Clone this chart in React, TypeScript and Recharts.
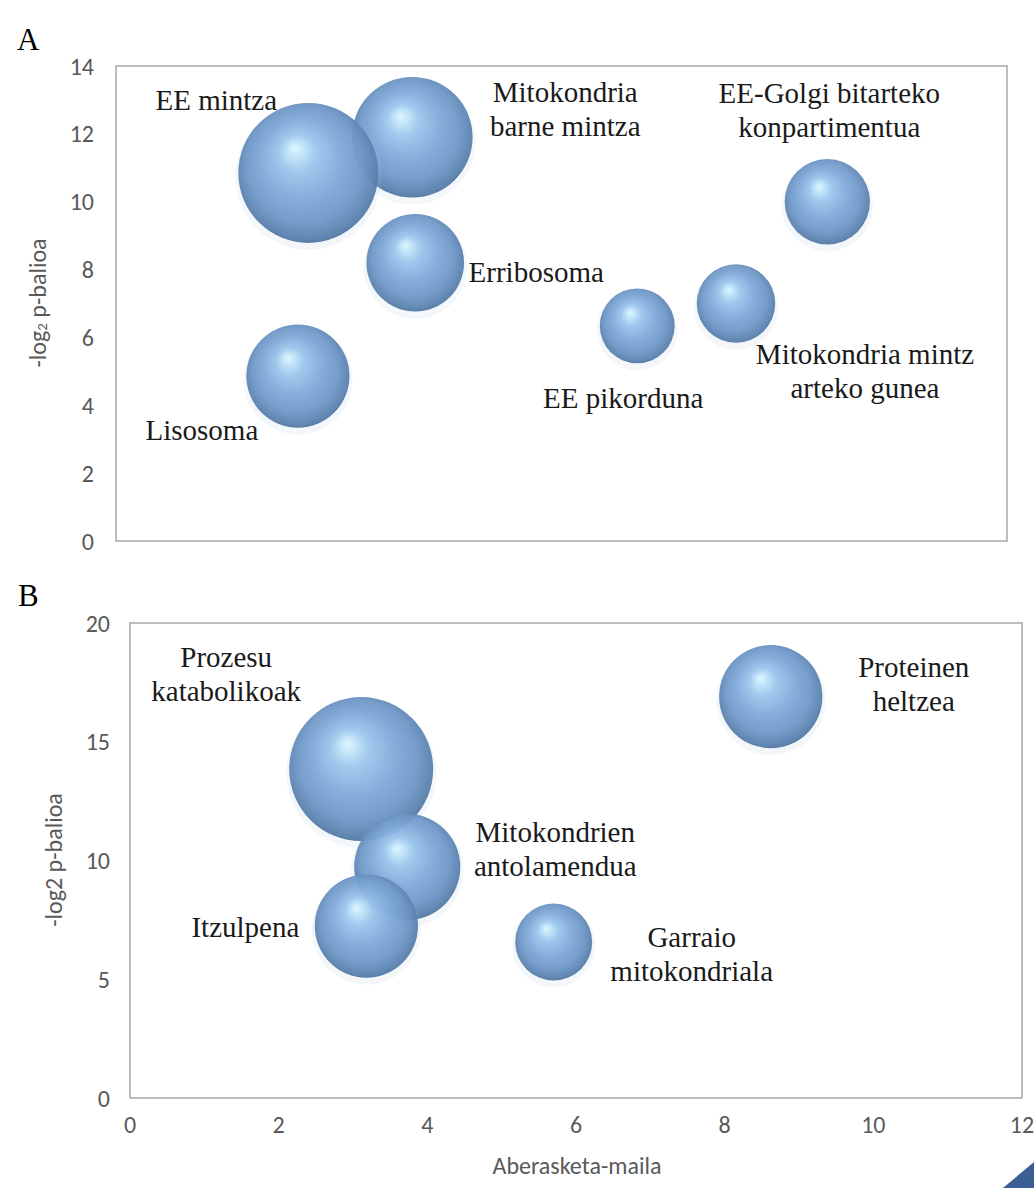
import React from "react";
import { ScatterChart, Scatter, XAxis, YAxis, ZAxis, ReferenceArea } from "recharts";

// A: zelula osagaiak
const namesA = [
  "Mitokondria\nbarne mintza",
  "EE mintza",
  "Erribosoma",
  "Lisosoma",
  "EE pikorduna",
  "Mitokondria mintz\narteko gunea",
  "EE-Golgi bitarteko\nkonpartimentua",
];
const enrichA = [3.99, 2.59, 4.03, 2.45, 7.02, 8.35, 9.58];
const pvalA = [11.9, 10.85, 8.2, 4.86, 6.34, 7.0, 10.0];
const countA = [26, 35, 17, 19, 10, 11, 13];

// B: prozesu biologikoak
const namesB = [
  "Prozesu\nkatabolikoak",
  "Mitokondrien\nantolamendua",
  "Itzulpena",
  "Garraio\nmitokondriala",
  "Proteinen\nheltzea",
];
const enrichB = [3.11, 3.73, 3.18, 5.7, 8.62];
const pvalB = [13.85, 9.73, 7.24, 6.57, 16.9];
const countB = [35, 19, 18, 10, 18];

const xTicks = [0, 2, 4, 6, 8, 10, 12];
const yTicksA = [0, 2, 4, 6, 8, 10, 12, 14];
const yTicksB = [0, 5, 10, 15, 20];

// label placement relative to the bubble centre (px)
const labelOffsets: Record<string, [number, number]> = {
  "Mitokondria\nbarne mintza": [153, -28],
  "EE mintza": [-92, -73],
  Erribosoma: [121, 9],
  Lisosoma: [-96, 54],
  "EE pikorduna": [-14, 72],
  "Mitokondria mintz\narteko gunea": [129, 67],
  "EE-Golgi bitarteko\nkonpartimentua": [2, -92],
  "Prozesu\nkatabolikoak": [-135, -95],
  "Mitokondrien\nantolamendua": [148, -18],
  Itzulpena: [-121, 1],
  "Garraio\nmitokondriala": [138, 12],
  "Proteinen\nheltzea": [143, -13],
};

const dataA = namesA.map((name, i) => ({ name, x: enrichA[i], y: pvalA[i], z: countA[i] }));
const dataB = namesB.map((name, i) => ({ name, x: enrichB[i], y: pvalB[i], z: countB[i] }));

const AXIS_FONT = "Carlito, 'Liberation Sans Narrow', 'Noto Sans', sans-serif";
const LABEL_FONT = "'Liberation Serif', 'Times New Roman', serif";
const GREY = "#595959";

const Bubble = (props: any) => {
  const { cx, cy, payload, gradId } = props;
  const r = props.width ? props.width / 2 : Math.sqrt((props.size || 0) / Math.PI);
  const off = labelOffsets[payload.name] || [0, 0];
  const lines = String(payload.name).split("\n");
  const lh = 34;
  return (
    <g>
      <circle cx={cx} cy={cy + 4} r={r + 3} fill="#b3c7dd" opacity={0.14} />
      <circle cx={cx} cy={cy} r={r} fill={`url(#${gradId})`} fillOpacity={0.94} />
      <text textAnchor="middle" fontFamily={LABEL_FONT} fontSize={29} fill="#1a1a1a">
        {lines.map((l, i) => (
          <tspan
            key={i}
            x={cx + off[0]}
            y={cy + off[1] + (i - (lines.length - 1) / 2) * lh}
            dominantBaseline="central"
          >
            {l}
          </tspan>
        ))}
      </text>
    </g>
  );
};

const SphereGradient = ({ id }: { id: string }) => (
  <defs>
    <radialGradient id={id} cx="50%" cy="48%" r="56%" fx="40%" fy="32%">
      <stop offset="0%" stopColor="#dcf6ff" />
      <stop offset="9%" stopColor="#c2e6fa" />
      <stop offset="24%" stopColor="#9cc6ec" />
      <stop offset="48%" stopColor="#82acdb" />
      <stop offset="74%" stopColor="#6f97c7" />
      <stop offset="90%" stopColor="#5980ae" />
      <stop offset="100%" stopColor="#42698f" />
    </radialGradient>
  </defs>
);

const tickStyle = { fontSize: 24, fill: GREY, fontFamily: AXIS_FONT };

export default function App() {
  return (
    <div
      style={{
        position: "absolute",
        top: 0,
        left: 0,
        width: 1034,
        height: 1188,
        background: "#fff",
        overflow: "hidden",
      }}
    >
      <div style={{ position: "absolute", left: 17, top: 22, fontFamily: LABEL_FONT, fontSize: 31 }}>A</div>
      <div style={{ position: "absolute", left: 18, top: 578, fontFamily: LABEL_FONT, fontSize: 31 }}>B</div>

      <div style={{ position: "absolute", left: 0, top: 0 }}>
        <ScatterChart width={1034} height={580} margin={{ top: 66, right: 27, bottom: 39, left: 36 }}>
          <SphereGradient id="sphA" />
          <XAxis type="number" dataKey="x" domain={[0, 12]} ticks={xTicks} hide />
          <YAxis
            type="number"
            dataKey="y"
            domain={[0, 14]}
            ticks={yTicksA}
            width={80}
            axisLine={false}
            tickLine={false}
            tickMargin={16}
            tick={tickStyle}
          />
          <ZAxis type="number" dataKey="z" domain={[0, 35]} range={[0, Math.PI * 70 * 70]} />
          <ReferenceArea x1={0} x2={12} y1={0} y2={14} fill="none" stroke="#a6a6a6" strokeWidth={1.5} ifOverflow="visible" />
          <Scatter data={dataA} isAnimationActive={false} shape={(p: any) => <Bubble {...p} gradId="sphA" />} />
          <text
            transform="translate(37,303) rotate(-90)"
            textAnchor="middle"
            dominantBaseline="central"
            fontSize={24}
            fill={GREY}
            fontFamily={AXIS_FONT}
          >
            -log
            <tspan fontSize={15} dy={5}>
              2
            </tspan>
            <tspan dy={-5}> p-balioa</tspan>
          </text>
        </ScatterChart>
      </div>

      <div style={{ position: "absolute", left: 0, top: 560 }}>
        <ScatterChart width={1034} height={628} margin={{ top: 63, right: 12, bottom: 30, left: 40 }}>
          <SphereGradient id="sphB" />
          <XAxis
            type="number"
            dataKey="x"
            domain={[0, 12]}
            ticks={xTicks}
            height={60}
            axisLine={false}
            tickLine={false}
            tickMargin={12}
            tick={tickStyle}
          />
          <YAxis
            type="number"
            dataKey="y"
            domain={[0, 20]}
            ticks={yTicksB}
            width={90}
            axisLine={false}
            tickLine={false}
            tickMargin={14}
            tick={tickStyle}
          />
          <ZAxis type="number" dataKey="z" domain={[0, 35]} range={[0, Math.PI * 72 * 72]} />
          <ReferenceArea x1={0} x2={12} y1={0} y2={20} fill="none" stroke="#a6a6a6" strokeWidth={1.5} ifOverflow="visible" />
          <Scatter data={dataB} isAnimationActive={false} shape={(p: any) => <Bubble {...p} gradId="sphB" />} />
          <text
            transform="translate(53,300) rotate(-90)"
            textAnchor="middle"
            dominantBaseline="central"
            fontSize={24}
            fill={GREY}
            fontFamily={AXIS_FONT}
          >
            -log2 p-balioa
          </text>
          <text x={577} y={605} textAnchor="middle" dominantBaseline="central" fontSize={24} fill={GREY} fontFamily={AXIS_FONT}>
            Aberasketa-maila
          </text>
        </ScatterChart>
      </div>

      <svg style={{ position: "absolute", left: 0, top: 0 }} width={1034} height={1188} pointerEvents="none">
        <polygon points="1003,1188 1034,1188 1034,1162" fill="#3b5f94" />
      </svg>
    </div>
  );
}
